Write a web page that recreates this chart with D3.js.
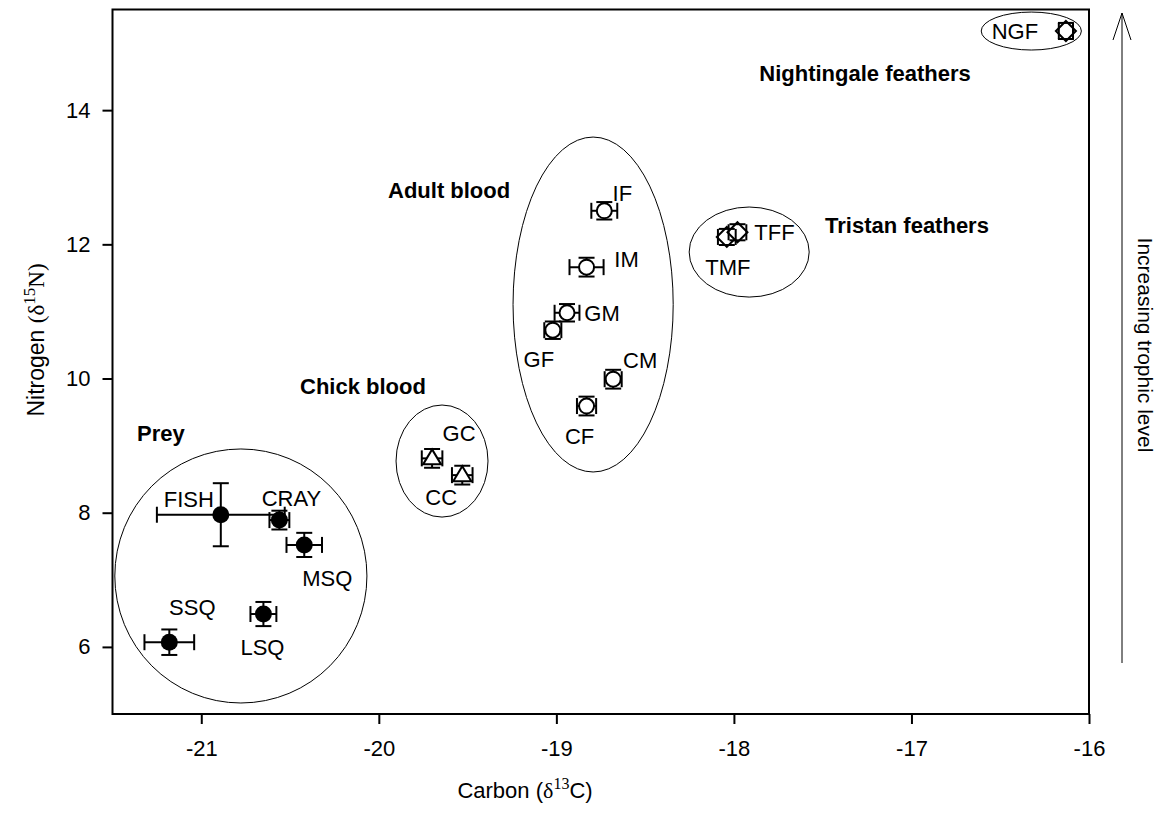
<!DOCTYPE html>
<html>
<head>
<meta charset="utf-8">
<script src="https://cdn.jsdelivr.net/npm/d3@7"></script>
<style>
  html, body { margin: 0; padding: 0; background: #fff; }
  svg text { font-family: "Liberation Sans", Arial, sans-serif; }
</style>
</head>
<body>
<svg id="chart" width="1164" height="827"></svg>
<script>
// Sample codes
const samples = ["FISH", "CRAY", "MSQ", "SSQ", "LSQ", "GC", "CC", "IF", "IM", "GM", "GF", "CM", "CF", "TMF", "TFF", "NGF"];
// Mean carbon (δ13C) and nitrogen (δ15N) per sample
const carbon   = [-20.89, -20.56, -20.42, -21.18, -20.65, -19.70, -19.53, -18.73, -18.83, -18.94, -19.02, -18.68, -18.83, -18.04, -17.98, -16.13];
const nitrogen = [7.97, 7.89, 7.52, 6.07, 6.49, 8.81, 8.56, 12.50, 11.66, 10.98, 10.72, 9.99, 9.59, 12.11, 12.18, 15.18];
// Error (± SE) on each axis
const carbonErr   = [0.36, 0.056, 0.10, 0.14, 0.073, 0.058, 0.058, 0.073, 0.096, 0.07, 0.048, 0.048, 0.054, 0.05, 0.05, 0.04];
const nitrogenErr = [0.47, 0.14, 0.18, 0.19, 0.18, 0.14, 0.14, 0.13, 0.14, 0.13, 0.13, 0.14, 0.14, 0.12, 0.12, 0.12];
// Marker type per sample
const markerType = ["dot", "dot", "dot", "dot", "dot", "tri", "tri", "ring", "ring", "ring", "ring", "ring", "ring", "diamond", "diamond", "diamond"];

// Group outlines (centre and semi-axes in data units)
const groupNames = ["Prey", "Chick blood", "Adult blood", "Tristan feathers", "Nightingale feathers"];
const groupCx = [-20.777, -19.644, -18.793, -17.914, -16.325];
const groupCy = [7.057, 8.770, 11.103, 11.885, 15.179];
const groupRx = [0.710, 0.259, 0.451, 0.338, 0.282];
const groupRy = [1.893, 0.835, 2.496, 0.671, 0.283];

// Axis ticks
const xTicks = [-21, -20, -19, -18, -17, -16];
const yTicks = [6, 8, 10, 12, 14];

const svg = d3.select("#chart");
const box = { left: 112.5, right: 1089, top: 9.5, bottom: 714 };

const x = d3.scaleLinear().domain([-21.5, -16]).range([box.left, box.right]);
const y = d3.scaleLinear().domain([5, 15.5]).range([box.bottom, box.top]);

// Label placement offsets (px) around each point
const labelOffset = {
  FISH: [-32, -16], CRAY: [12, -22], MSQ: [23, 33], SSQ: [23, -35], LSQ: [-1, 33],
  GC: [27, -25], CC: [-21, 22], IF: [18, -18], IM: [40, -8], GM: [35, 0], GF: [-14, 29],
  CM: [27, -19], CF: [-7, 30], TMF: [1, 30], TFF: [37, 0], NGF: [-51, 0]
};
// Group title positions (px)
const groupLabelPos = {
  "Prey": [137, 441, "start"],
  "Chick blood": [300, 394, "start"],
  "Adult blood": [388, 198, "start"],
  "Tristan feathers": [907, 233, "middle"],
  "Nightingale feathers": [865, 81, "middle"]
};

// Plot frame
svg.append("rect")
  .attr("x", box.left).attr("y", box.top)
  .attr("width", box.right - box.left).attr("height", box.bottom - box.top)
  .attr("fill", "none").attr("stroke", "#000").attr("stroke-width", 2);

// Axes
const fmt = d => String(d);
const xAxis = svg.append("g").attr("transform", `translate(0,${box.bottom})`)
  .call(d3.axisBottom(x).tickValues(xTicks).tickSize(10).tickPadding(16).tickFormat(fmt));
const yAxis = svg.append("g").attr("transform", `translate(${box.left},0)`)
  .call(d3.axisLeft(y).tickValues(yTicks).tickSize(10).tickPadding(12).tickFormat(fmt));
[xAxis, yAxis].forEach(g => {
  g.select(".domain").remove();
  g.selectAll(".tick line").attr("stroke", "#000").attr("stroke-width", 2);
  g.selectAll(".tick text").attr("fill", "#000").style("font-size", "22px")
    .style("font-family", "'Liberation Sans', Arial, sans-serif");
});

// Group ellipses
svg.append("g").selectAll("ellipse").data(groupNames).join("ellipse")
  .attr("cx", (d, i) => x(groupCx[i]))
  .attr("cy", (d, i) => y(groupCy[i]))
  .attr("rx", (d, i) => x(groupCx[i] + groupRx[i]) - x(groupCx[i]))
  .attr("ry", (d, i) => y(groupCy[i]) - y(groupCy[i] + groupRy[i]))
  .attr("fill", "none").attr("stroke", "#000").attr("stroke-width", 1);

// Group titles
svg.append("g").selectAll("text").data(groupNames).join("text")
  .attr("x", d => groupLabelPos[d][0])
  .attr("y", d => groupLabelPos[d][1])
  .attr("text-anchor", d => groupLabelPos[d][2])
  .style("font-size", "22px").style("font-weight", "bold")
  .text(d => d);

const idx = d3.range(samples.length);
const cap = 8;

// Whiskers
const err = svg.append("g").attr("stroke", "#000").attr("stroke-width", 2);
idx.forEach(i => {
  const cx = x(carbon[i]), cy = y(nitrogen[i]);
  const x0 = x(carbon[i] - carbonErr[i]), x1 = x(carbon[i] + carbonErr[i]);
  const y0 = y(nitrogen[i] - nitrogenErr[i]), y1 = y(nitrogen[i] + nitrogenErr[i]);
  err.append("line").attr("x1", x0).attr("x2", x1).attr("y1", cy).attr("y2", cy);
  err.append("line").attr("x1", cx).attr("x2", cx).attr("y1", y0).attr("y2", y1);
});

// Markers
const marks = svg.append("g");
idx.forEach(i => {
  const cx = x(carbon[i]), cy = y(nitrogen[i]);
  const t = markerType[i];
  if (t === "dot") {
    marks.append("circle").attr("cx", cx).attr("cy", cy).attr("r", 8.5).attr("fill", "#000");
  } else if (t === "ring") {
    marks.append("circle").attr("cx", cx).attr("cy", cy).attr("r", 7.5)
      .attr("fill", "#fff").attr("stroke", "#000").attr("stroke-width", 2);
  } else if (t === "tri") {
    marks.append("path")
      .attr("d", `M${cx},${cy - 9}L${cx + 9},${cy + 6}L${cx - 9},${cy + 6}Z`)
      .attr("fill", "#fff").attr("stroke", "#000").attr("stroke-width", 2);
  } else {
    marks.append("path")
      .attr("d", `M${cx},${cy - 10}L${cx + 10},${cy}L${cx},${cy + 10}L${cx - 10},${cy}Z`)
      .attr("fill", "#fff").attr("stroke", "#000").attr("stroke-width", 2);
  }
});

// Caps
const caps = svg.append("g").attr("stroke", "#000").attr("stroke-width", 2);
idx.forEach(i => {
  const cx = x(carbon[i]), cy = y(nitrogen[i]);
  const x0 = x(carbon[i] - carbonErr[i]), x1 = x(carbon[i] + carbonErr[i]);
  const y0 = y(nitrogen[i] - nitrogenErr[i]), y1 = y(nitrogen[i] + nitrogenErr[i]);
  [x0, x1].forEach(xx => caps.append("line").attr("x1", xx).attr("x2", xx).attr("y1", cy - cap).attr("y2", cy + cap));
  [y0, y1].forEach(yy => caps.append("line").attr("x1", cx - cap).attr("x2", cx + cap).attr("y1", yy).attr("y2", yy));
});

// Sample labels
svg.append("g").selectAll("text").data(idx).join("text")
  .attr("x", i => x(carbon[i]) + labelOffset[samples[i]][0])
  .attr("y", i => y(nitrogen[i]) + labelOffset[samples[i]][1])
  .attr("dy", "0.36em")
  .attr("text-anchor", "middle")
  .style("font-size", "22px")
  .text(i => samples[i]);

// Axis titles
const serif = "'Liberation Serif', 'Times New Roman', serif";
const yt = svg.append("text")
  .attr("transform", "translate(44,340) rotate(-90)")
  .attr("text-anchor", "middle")
  .style("font-size", "23px");
yt.append("tspan").text("Nitrogen ");
yt.append("tspan").style("font-family", serif).text("(δ");
yt.append("tspan").style("font-family", serif)
  .style("font-size", "17px").attr("dy", "-9").text("15");
yt.append("tspan").style("font-family", serif)
  .attr("dy", "9").text("N)");

const xt = svg.append("text")
  .attr("x", 525).attr("y", 798)
  .attr("text-anchor", "middle")
  .style("font-size", "22px");
xt.append("tspan").text("Carbon (");
xt.append("tspan").style("font-family", serif).text("δ");
xt.append("tspan").style("font-family", serif)
  .style("font-size", "16px").attr("dy", "-9").text("13");
xt.append("tspan").attr("dy", "9").text("C)");

// Trophic-level arrow
const ax = 1122;
svg.append("line").attr("x1", ax).attr("x2", ax).attr("y1", 663).attr("y2", 13)
  .attr("stroke", "#000").attr("stroke-width", 1);
svg.append("path").attr("d", `M${ax - 9},${40}L${ax},${13}L${ax + 9},${40}`)
  .attr("fill", "none").attr("stroke", "#000").attr("stroke-width", 1);
svg.append("text")
  .attr("transform", "translate(1138,345) rotate(90)")
  .attr("text-anchor", "middle")
  .style("font-size", "21px")
  .text("Increasing trophic level");
</script>
</body>
</html>
